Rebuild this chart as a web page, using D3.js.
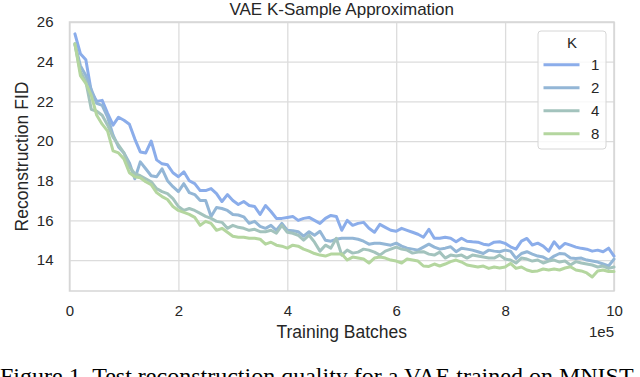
<!DOCTYPE html>
<html lang="en">
<head>
<meta charset="UTF-8">
<title>VAE K-Sample Approximation</title>
<script src="https://d3js.org/d3.v7.min.js"></script>
<style>
    body { margin: 0; background: #fff; }
    svg { display: block; }
    text { font-family: "Liberation Sans", Arial, sans-serif; fill: #262626; }
    .grid line { stroke: #dcdcdc; stroke-width: 1.3; }
    .grid .domain { display: none; }
    .tick-label { font-size: 15px; }
    .axis-label { font-size: 17.5px; }
    .title { font-size: 17px; }
    .caption { font-family: "Liberation Serif", "Times New Roman", serif; font-size: 24px; fill: #000; }
</style>
</head>
<body>
<svg width="640" height="377"></svg>
<script>
// x in units of 1e5 training batches
const batches = d3.range(1, 101).map(i => i / 10);
const kValues = ["1", "2", "4", "8"];
const xTicks = [0, 2, 4, 6, 8, 10];
const yTicks = [14, 16, 18, 20, 22, 24, 26];

const fidK1 = [
    25.4, 24.4, 24.1, 22.5, 22.0, 22.05, 21.4, 20.8, 21.2, 21.05,
    20.85, 20.1, 19.45, 19.4, 20.0, 19.05, 18.85, 18.8, 18.4, 18.2,
    18.45, 18.0, 17.85, 17.5, 17.5, 17.6, 17.35, 16.95, 17.3, 17.0,
    16.8, 16.95, 16.75, 16.7, 16.3, 16.75, 16.45, 16.1, 16.1, 16.15,
    16.2, 16.0, 16.1, 16.15, 16.0, 15.85, 16.1, 16.25, 16.2, 15.5,
    16.0, 15.75, 15.85, 15.9, 15.6, 15.4, 15.8, 15.65, 15.5, 15.45,
    15.6, 15.5, 15.4, 15.3, 15.15, 15.55, 15.1, 15.1, 15.15, 15.1,
    14.92, 15.1, 14.95, 14.92, 14.9, 14.8, 14.76, 14.9, 14.92, 14.84,
    14.67, 14.55, 14.95, 15.09, 14.76, 14.85, 14.7, 14.45, 14.92, 14.6,
    14.84, 14.75, 14.65, 14.59, 14.55, 14.45, 14.5, 14.42, 14.6, 14.2
];
const fidK2 = [
    24.9, 23.8, 23.3, 22.6, 21.9, 21.8, 21.2, 20.3, 19.7, 19.4,
    18.9, 18.1, 18.95, 18.6, 18.25, 18.2, 18.6, 18.0, 17.7, 17.45,
    17.85, 17.4, 17.3, 17.0, 17.0, 16.2, 16.65, 16.6, 16.5, 16.3,
    16.27, 16.18, 15.85, 15.95, 15.7, 15.6, 15.75, 15.5, 15.85, 15.5,
    15.48, 15.43, 15.2, 15.43, 15.25, 15.45, 15.0, 14.95, 15.05, 15.1,
    15.1, 15.1, 15.05, 14.95, 14.8, 14.85, 14.85, 14.8, 14.75, 14.85,
    14.7, 14.6, 14.55, 14.5, 14.65, 14.8, 14.65, 14.55, 14.6, 14.67,
    14.42, 14.6, 14.55, 14.5, 14.42, 14.33, 14.5, 14.45, 14.42, 14.5,
    14.45, 14.08, 14.33, 14.42, 14.3, 14.2, 14.15, 14.0, 14.2, 14.33,
    14.3, 14.1, 14.08, 14.1, 14.0, 13.95, 13.9, 13.8, 13.7, 14.05
];
const fidK4 = [
    24.85, 23.5, 23.0, 21.6, 21.5, 21.3, 20.8, 20.2, 19.8, 19.4,
    18.7, 18.35, 18.25, 18.1, 17.95, 17.6, 17.45, 17.35, 17.1, 16.7,
    16.5, 16.6, 16.5, 16.35, 16.2, 16.1, 15.95, 15.9, 15.6, 15.75,
    15.65, 15.6, 15.5, 15.55, 15.43, 15.43, 15.5, 15.35, 15.75, 15.4,
    15.35, 15.25, 15.0, 15.25, 14.9, 14.45, 14.75, 14.6, 15.1, 14.25,
    14.5, 14.35, 14.4, 14.55, 14.5, 14.4, 14.25, 14.45, 14.55, 14.65,
    14.55, 14.5, 14.35, 14.4, 14.42, 14.3, 14.25, 14.4, 14.1, 14.25,
    14.2, 14.25, 14.1, 14.25, 14.2, 14.15, 14.1, 14.1, 14.25, 14.05,
    14.0, 13.85, 14.1, 14.05, 13.95, 14.0, 13.85, 13.95, 14.0, 13.9,
    13.95, 13.75, 13.92, 13.85, 13.8, 13.75, 13.65, 13.7, 13.58, 13.65
];
const fidK8 = [
    24.9, 23.3, 22.9, 22.3, 21.3, 20.85, 20.5, 19.5, 19.4, 19.1,
    18.4, 18.2, 18.15, 17.95, 17.8, 17.4, 17.2, 17.05, 16.7, 16.5,
    16.4, 16.3, 16.15, 15.75, 15.95, 15.85, 15.5, 15.6, 15.4, 15.2,
    15.15, 15.15, 15.1, 15.1, 15.05, 14.8, 14.9, 14.75, 14.7, 14.6,
    14.75, 14.7, 14.55, 14.45, 14.33, 14.25, 14.2, 14.3, 14.3, 14.3,
    14.0, 14.15, 14.1, 14.05, 13.85, 14.1, 14.15, 14.1, 14.0, 13.95,
    13.85, 14.05, 14.0, 13.95, 13.7, 13.68, 13.8, 13.7, 13.8, 13.92,
    14.0, 13.9, 13.75, 13.7, 13.65, 13.7, 13.58, 13.65, 13.6, 13.65,
    13.83, 13.58, 13.65, 13.5, 13.42, 13.45, 13.55, 13.5, 13.55, 13.5,
    13.6, 13.66, 13.5, 13.45, 13.35, 13.15, 13.45, 13.5, 13.42, 13.42
];
const seriesValues = [fidK1, fidK2, fidK4, fidK8];
const colors = ["#8badea", "#93b6d6", "#a3c3bd", "#b4d69f"];

const margin = { top: 22, right: 26, bottom: 86, left: 69.5 };
const width = 640 - margin.left - margin.right;
const height = 377 - margin.top - margin.bottom;

const svgRoot = d3.select("svg");
const svg = svgRoot.append("g")
    .attr("transform", `translate(${margin.left},${margin.top})`);

const x = d3.scaleLinear().domain([0, 10]).range([0, width]);
const y = d3.scaleLinear().domain([12.44, 26]).range([height, 0]);

// grid + tick labels
const gx = svg.append("g")
    .attr("class", "grid")
    .attr("transform", `translate(0,${height})`)
    .call(d3.axisBottom(x).tickValues(xTicks).tickSize(-height).tickPadding(14).tickFormat(d3.format("d")));
gx.selectAll("text").attr("class", "tick-label");

const gy = svg.append("g")
    .attr("class", "grid")
    .call(d3.axisLeft(y).tickValues(yTicks).tickSize(-width).tickPadding(16).tickFormat(d3.format("d")));
gy.selectAll("text").attr("class", "tick-label");

// frame
svg.append("rect")
    .attr("width", width)
    .attr("height", height)
    .attr("fill", "none")
    .attr("stroke", "#d6d6d6")
    .attr("stroke-width", 1.5);

// lines
const line = d3.line()
    .x((d, i) => x(batches[i]))
    .y(d => y(d));

seriesValues.forEach((vals, i) => {
    svg.append("path")
        .datum(vals)
        .attr("fill", "none")
        .attr("stroke", colors[i])
        .attr("stroke-width", 3)
        .attr("stroke-linejoin", "round")
        .attr("stroke-linecap", "round")
        .attr("d", line);
});

// title and axis labels
svg.append("text")
    .attr("x", width / 2)
    .attr("y", -7)
    .attr("text-anchor", "middle")
    .attr("class", "title")
    .text("VAE K-Sample Approximation");

svg.append("text")
    .attr("x", width / 2)
    .attr("y", height + 47)
    .attr("text-anchor", "middle")
    .attr("class", "axis-label")
    .text("Training Batches");

svg.append("text")
    .attr("x", width)
    .attr("y", height + 46)
    .attr("text-anchor", "end")
    .attr("class", "tick-label")
    .text("1e5");

svg.append("text")
    .attr("transform", `translate(${-margin.left + 28},${height / 2}) rotate(-90)`)
    .attr("text-anchor", "middle")
    .attr("class", "axis-label")
    .text("Reconstruction FID");

// legend
const legend = svg.append("g")
    .attr("transform", `translate(${width - 76},${9})`);

legend.append("rect")
    .attr("width", 68)
    .attr("height", 118)
    .attr("rx", 3)
    .attr("fill", "#fff")
    .attr("fill-opacity", 0.8)
    .attr("stroke", "#d6d6d6");

legend.append("text")
    .attr("x", 34)
    .attr("y", 17)
    .attr("text-anchor", "middle")
    .attr("class", "tick-label")
    .text("K");

kValues.forEach((k, i) => {
    const item = legend.append("g")
        .attr("transform", `translate(0,${33.7 + i * 23})`);
    item.append("line")
        .attr("x1", 5.5).attr("x2", 41.5)
        .attr("stroke", colors[i])
        .attr("stroke-width", 3);
    item.append("text")
        .attr("x", 53)
        .attr("y", 5.5)
        .attr("class", "tick-label")
        .text(k);
});

// figure caption (cut off at the bottom, as in the page scan)
svgRoot.append("text")
    .attr("x", 0)
    .attr("y", 384)
    .attr("class", "caption")
    .text("Figure 1. Test reconstruction quality for a VAE trained on MNIST");
</script>
</body>
</html>
